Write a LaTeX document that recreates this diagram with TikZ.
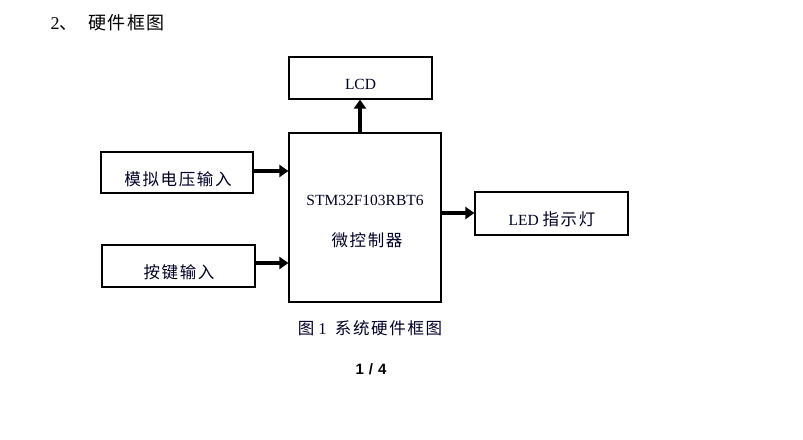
\documentclass[tikz,border=0pt]{standalone}
\usepackage{fontspec}
\setmainfont{Liberation Serif}
\newfontfamily\cjk[LetterSpace=10]{Noto Sans CJK SC}
\newfontfamily\cjkh[LetterSpace=8]{Noto Sans CJK SC}
\setsansfont{Liberation Sans}
\usetikzlibrary{arrows.meta}
\begin{document}
\begin{tikzpicture}[x=1pt,y=-1pt,
  blk/.style={draw=black, line width=1.2pt, inner sep=0pt},
  lbl/.style={font=\fontsize{15.5}{18}\selectfont, text=black!85!blue},
  clbl/.style={font=\fontsize{16.5}{18}\selectfont\cjk, text=black!85!blue},
  arr/.style={line width=4pt, -{Triangle[length=9pt,width=12pt]}}]
\useasboundingbox (0,0) rectangle (803,439);
\fill[white] (0,0) rectangle (803,439);
% boxes
\node[blk, minimum width=143pt, minimum height=42pt] (lcd) at (360.5,78) {};
\node[lbl] at (360.5,84) {LCD};
\node[blk, minimum width=152pt, minimum height=169pt] (mcu) at (365,217.5) {};
\node[lbl] at (365,200) {STM32F103RBT6};
\node[clbl] at (367,240) {微控制器};
\node[blk, minimum width=152pt, minimum height=41pt] (adc) at (177,172.5) {};
\node[clbl] at (178,179) {模拟电压输入};
\node[blk, minimum width=153pt, minimum height=42pt] (key) at (178.5,266) {};
\node[clbl] at (179,272) {按键输入};
\node[blk, minimum width=153pt, minimum height=43pt] (led) at (551.5,213.5) {};
\node[lbl] at (552,219) {LED {\fontsize{16.5}{18}\selectfont\cjk 指示灯}};
% arrows
\coordinate (a1) at (253,171);
\coordinate (a2) at (255,263);
\coordinate (a3) at (441,213);
\coordinate (a4) at (360,133);
\draw[arr] (a1) -- (mcu.west |- a1);
\draw[arr] (a2) -- (mcu.west |- a2);
\draw[arr] (a3) -- (led.west |- a3);
\draw[arr] (a4) -- (lcd.south -| a4);
% texts
\node[font=\fontsize{18}{20}\selectfont, anchor=west] (hd) at (47,23) {2{\cjkh 、\ \ 硬件框图}};
\node[font=\fontsize{16.5}{18}\selectfont, text=black!85!blue] (cap) at (370,328) {{\cjk 图}\ 1\ \ {\cjk 系统硬件框图}};
\node[font=\sffamily\bfseries\fontsize{15}{17}\selectfont] (pg) at (371,369) {1\,\,/\,\,4};
\end{tikzpicture}
\end{document}
